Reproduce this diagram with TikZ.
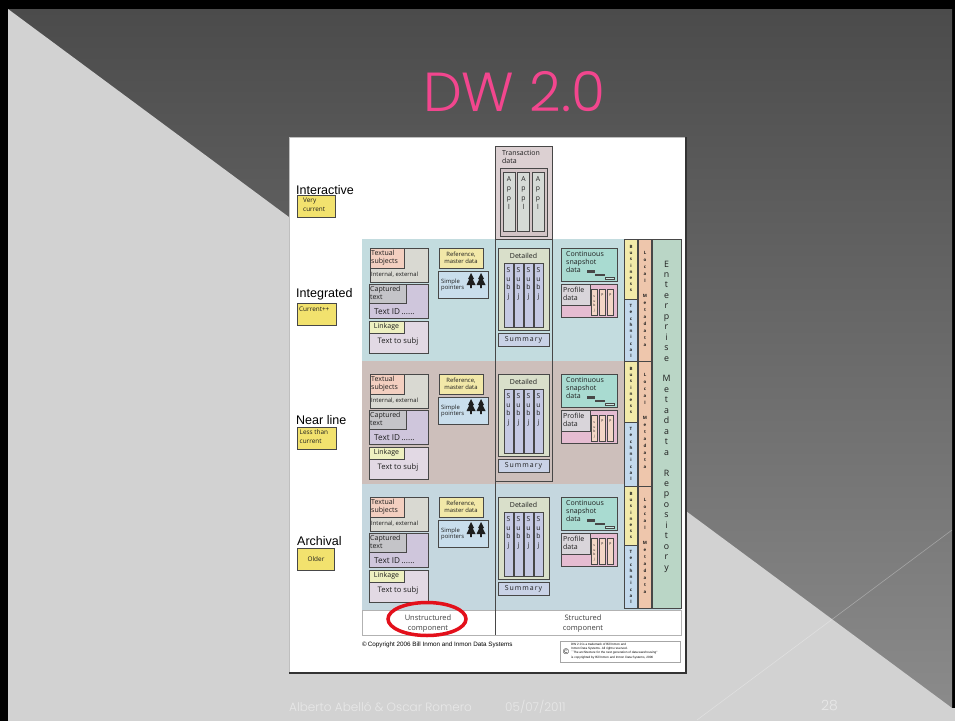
\documentclass[tikz,border=0pt]{standalone}
\usepackage{fontspec}
\newfontfamily\diafont{Open Sans}
\newfontfamily\sidefont{Liberation Sans}
\newfontfamily\titlefont{Poppins Light}

\definecolor{slidedark}{HTML}{4B4B4B}
\definecolor{slidelow}{HTML}{8C8C8C}
\definecolor{slidelight}{HTML}{D2D2D2}
\definecolor{titlepink}{HTML}{F2468E}
\definecolor{footgray}{HTML}{E8E8E8}
\definecolor{boxline}{HTML}{474747}
\definecolor{ink}{HTML}{1E1E1E}
\definecolor{redmark}{HTML}{E3101B}
\definecolor{tagyellow}{HTML}{F2E26E}
\definecolor{intband}{HTML}{C3DCDF}
\definecolor{nearband}{HTML}{CDBFBB}
\definecolor{archband}{HTML}{C5D7DF}
\definecolor{textout}{HTML}{D9D9D2}
\definecolor{textlab}{HTML}{F3CFC0}
\definecolor{captout}{HTML}{CFC6DC}
\definecolor{captlab}{HTML}{C4C4C8}
\definecolor{linkout}{HTML}{E2D9E4}
\definecolor{linklab}{HTML}{EEF0C0}
\definecolor{refbox}{HTML}{F2E8A8}
\definecolor{ptrbox}{HTML}{C9DEEC}
\definecolor{detbox}{HTML}{D9DFCA}
\definecolor{subjcol}{HTML}{C5C9E3}
\definecolor{sumbox}{HTML}{C9D2E6}
\definecolor{transout}{HTML}{DCD0D2}
\definecolor{transin}{HTML}{D2C4C6}
\definecolor{applcol}{HTML}{D5DAD6}
\definecolor{contbox}{HTML}{A9DBD1}
\definecolor{profout}{HTML}{E5BCD1}
\definecolor{proflab}{HTML}{D9D5DA}
\definecolor{profstrip}{HTML}{F3D6C6}
\definecolor{buscol}{HTML}{F2EAA9}
\definecolor{techcol}{HTML}{C3D9EC}
\definecolor{localcol}{HTML}{EEC6AC}
\definecolor{entcol}{HTML}{BAD6C6}

\tikzset{
  bx/.style={draw=boxline, line width=1pt},
  tag/.style={draw=boxline, line width=1pt, fill=tagyellow},
  lbl/.style={font=\diafont\fontsize{7}{8}\selectfont, text=ink, inner sep=0pt, align=left},
  small/.style={font=\diafont\fontsize{5.9}{6.8}\selectfont, text=ink, inner sep=0pt, align=left},
  tagtext/.style={font=\diafont\fontsize{6.4}{8.5}\selectfont, text=ink, inner sep=0pt, align=left},
  big/.style={font=\diafont\fontsize{8.2}{9}\selectfont, text=ink, inner sep=0pt},
  letter/.style={font=\diafont\fontsize{6.8}{6.8}\selectfont, text=ink, inner sep=0pt, anchor=base},
  micro/.style={font=\diafont\bfseries\fontsize{4.4}{4.4}\selectfont, text=ink, inner sep=0pt, anchor=base},
  entl/.style={font=\diafont\fontsize{8.8}{8.8}\selectfont, text=ink, inner sep=0pt, anchor=base},
  side/.style={font=\sidefont\fontsize{12.5}{14}\selectfont, text=black, inner sep=0pt, anchor=base west},
  foot/.style={font=\titlefont\fontsize{12}{14}\selectfont, text=footgray, inner sep=0pt},
}

\begin{document}
\begin{tikzpicture}[x=1pt, y=-1pt]
  \useasboundingbox (0,0) rectangle (955,720);

  % slide background
  \fill[black] (0,0) rectangle (955,722);
  \shade[top color=slidedark, bottom color=slidelow] (8,9) rectangle (952,722);
  \fill[slidelight] (8,9) -- (952,708) -- (956,708) -- (956,722) -- (8,722) -- cycle;
  \draw[white, opacity=0.3, line width=0.6pt] (952,530) -- (697,720);

  \node[font=\titlefont\fontsize{55}{60}\selectfont, text=titlepink, inner sep=0pt] (title) at (514,92) {DW 2.0};

  % the white sheet
  \fill[white] (289,137) rectangle (686,673);
  \draw[black!25, line width=0.6pt] (289,673) -- (289,137) -- (686,137);
  \draw[black!80, line width=1.6pt] (686,137) -- (686,673) -- (289,673);

  % ages on the left
  \node[side] (interactive) at (296,194) {Interactive};
  \draw[tag] (297.5,195) rectangle (335.5,217);
  \node[tagtext, anchor=north west] (verycur) at (303,198) {Very\\current};
  \node[side] (integrated) at (296,297.5) {Integrated};
  \draw[tag] (297.5,303) rectangle (336.5,325);
  \node[tagtext, anchor=north west] (curpp) at (299,306.5) {Current++};
  \node[side] (nearline) at (296,424) {Near line};
  \draw[tag] (297,427) rectangle (336.5,449);
  \node[tagtext, anchor=north west] (lessthan) at (299.5,429.5) {Less than\\current};
  \node[side] (archival) at (297,545) {Archival};
  \draw[tag] (297.5,548.5) rectangle (334,570.5);
  \node[tagtext] (older) at (316,559.5) {Older};

  % the three bands and what they hold
  \foreach \ya/\yb/\ey/\col [count=\bnd] in {239/361/248/intband, 361/484/374/nearband, 484/610/497/archband} {
    \fill[\col] (362,\ya) rectangle (681,\yb);

    % unstructured side
    \draw[bx, fill=textout] (370,\ey) rectangle (428,{\ey+34});
    \draw[bx, fill=textlab] (370,\ey) rectangle (404,{\ey+20});
    \node[lbl, anchor=north west] (txt\bnd) at (371,{\ey+2}) {Textual\\subjects};
    \node[small, anchor=west] (intext\bnd) at (371,{\ey+27}) {Internal, external};

    \draw[bx, fill=captout] (369,{\ey+36}) rectangle (428,{\ey+70});
    \draw[bx, fill=captlab] (369,{\ey+36}) rectangle (406,{\ey+55});
    \node[lbl, anchor=north west] (cap\bnd) at (370,{\ey+37.5}) {Captured\\text};
    \node[big, anchor=west] (tid\bnd) at (374,{\ey+63.5}) {Text ID\,......};

    \draw[bx, fill=linkout] (369,{\ey+73}) rectangle (428,{\ey+105});
    \draw[bx, fill=linklab] (369,{\ey+73}) rectangle (404,{\ey+85});
    \node[lbl] (lnk\bnd) at (386.5,{\ey+79}) {Linkage};
    \node[big, font=\diafont\fontsize{7.6}{8}\selectfont] (tts\bnd) at (398,{\ey+94}) {Text to subj};

    \draw[bx, fill=refbox] (439,\ey) rectangle (483,{\ey+20});
    \node[small, align=center] (ref\bnd) at (461,{\ey+10}) {Reference,\\master data};

    \draw[bx, fill=ptrbox] (438,{\ey+23}) rectangle (488,{\ey+50});
    \node[small, anchor=west] (ptr\bnd) at (441,{\ey+37}) {Simple\\pointers};
    \foreach \tx in {471,481}
      \fill[ink] (\tx,{\ey+25}) -- ({\tx+3},{\ey+31}) -- ({\tx+1.6},{\ey+31}) -- ({\tx+4.5},{\ey+37})
        -- ({\tx+0.8},{\ey+37}) -- ({\tx+0.8},{\ey+40}) -- ({\tx-0.8},{\ey+40}) -- ({\tx-0.8},{\ey+37})
        -- ({\tx-4.5},{\ey+37}) -- ({\tx-1.6},{\ey+31}) -- ({\tx-3},{\ey+31}) -- cycle;

    % structured side
    \draw[bx, fill=detbox] (498,\ey) rectangle (549,{\ey+82});
    \node[lbl] (det\bnd) at (523.5,{\ey+7.5}) {Detailed};
    \foreach \sx [count=\k] in {504,514,524,534} {
      \draw[bx, fill=subjcol] (\sx,{\ey+15}) rectangle ({\sx+9},{\ey+79});
      \foreach \ch [count=\j] in {S,u,b,j}
        \node[letter] (subj\bnd-\k-\j) at ({\sx+4.5},{\ey+16+8.5*\j}) {\ch};
    }
    \draw[bx, fill=sumbox] (498,{\ey+85}) rectangle (549,{\ey+98});
    \node[lbl] (sum\bnd) at (523.5,{\ey+91.5}) {\addfontfeature{LetterSpace=14}Summary};

    \draw[bx, fill=contbox] (561,\ey) rectangle (617,{\ey+33});
    \node[lbl, anchor=north west] (cont\bnd) at (566,{\ey+3}) {Continuous\\snapshot\\data};
    \fill[boxline] (587,{\ey+22}) rectangle (595,{\ey+24.5});
    \fill[boxline] (595,{\ey+25.5}) rectangle (605,{\ey+28});
    \draw[boxline, fill=contbox!60, line width=0.7pt] (605,{\ey+29}) rectangle (614,{\ey+31});

    \draw[bx, fill=profout] (561,{\ey+36}) rectangle (617,{\ey+69});
    \draw[bx, fill=proflab] (561,{\ey+36}) rectangle (590,{\ey+57});
    \node[lbl, anchor=north west] (prof\bnd) at (563,{\ey+38.5}) {Profile\\data};
    \foreach \px [count=\k] in {591,599,607}
      \draw[bx, line width=0.8pt, fill=profstrip] (\px,{\ey+41}) rectangle ({\px+6.5},{\ey+67});
    \foreach \ch [count=\j] in {s,u,b,j}
      \node[micro, font=\diafont\fontsize{3.4}{3.4}\selectfont] (psub\bnd-\j) at (594.3,{\ey+45+4.6*\j}) {\ch};
    \node[micro, font=\diafont\fontsize{3.4}{3.4}\selectfont] (pa\bnd) at (602.3,{\ey+47}) {p};
    \node[micro, font=\diafont\fontsize{3.4}{3.4}\selectfont] (pb\bnd) at (610.3,{\ey+47}) {p};
  }

  % transaction data column
  \draw[bx, fill=transout] (495.5,146) rectangle (552,239);
  \draw[bx] (495.5,146) rectangle (552,481);
  \draw[bx] (495.5,481) -- (495.5,635);
  \node[lbl, anchor=north west] (trans) at (502,150) {Transaction\\data};
  \draw[bx, fill=transin] (500,168) rectangle (547,236.5);
  \foreach \ax [count=\k] in {503,517.5,532} {
    \draw[bx, fill=applcol] (\ax,172) rectangle ({\ax+12},231);
    \foreach \ch [count=\j] in {A,p,p,l}
      \node[letter] (appl\k-\j) at ({\ax+6},{181.5+9.3*(\j-1)}) {\ch};
  }

  % metadata columns
  \foreach \ya/\yb/\ym [count=\seg] in {239/361/299, 361/486/422, 486/608/545} {
    \draw[bx, fill=buscol] (624.5,\ya) rectangle (637.5,\ym);
    \draw[bx, fill=techcol] (624.5,\ym) rectangle (637.5,\yb);
    \draw[bx, fill=localcol] (638.5,\ya) rectangle (651.5,\yb);
    \foreach \ch [count=\j] in {B,u,s,i,n,e,s,s}
      \node[micro] (bus\seg-\j) at (631,{\ya+9.5+6.2*(\j-1)}) {\ch};
    \foreach \ch [count=\j] in {T,e,c,h,n,i,c,a,l}
      \node[micro] (tech\seg-\j) at (631,{\ym+8.5+6.25*(\j-1)}) {\ch};
    \foreach \ch [count=\j] in {L,o,c,a,l,{},M,e,t,a,d,a,t,a}
      \node[micro] (loc\seg-\j) at (645,{\ya+15.5+7.1*(\j-1)}) {\ch};
  }
  \draw[bx, fill=entcol] (652.5,239) rectangle (681,608);
  \foreach \ch [count=\j] in {E,n,t,e,r,p,r,i,s,e,{},M,e,t,a,d,a,t,a,{},R,e,p,o,s,i,t,o,r,y}
    \node[entl] (ent\j) at (666.5,{267+10.45*(\j-1)}) {\ch};

  % component row
  \draw[black!30, line width=0.6pt] (362,610) rectangle (681,635);
  \draw[bx] (495.5,610) -- (495.5,635);
  \node[lbl, font=\diafont\fontsize{7.5}{10.5}\selectfont, text=ink!85, align=center] (unstr) at (428,623.5) {Unstructured\\component};
  \node[lbl, font=\diafont\fontsize{7.5}{10.5}\selectfont, text=ink!85, align=center] (str) at (583,623.5) {Structured\\component};
  \draw[redmark, line width=3.5pt] (427,619) ellipse [x radius=39, y radius=16.5];

  % copyright lines
  \node[font=\sidefont\fontsize{6.3}{7}\selectfont, anchor=west, inner sep=0pt] (copy) at (362,645) {\copyright\,Copyright 2006 Bill Inmon and Inmon Data Systems};
  \draw[black!35, line width=0.5pt] (560,641) rectangle (680,662);
  \node[font=\sidefont\fontsize{8}{8}\selectfont, inner sep=0pt] (cmark) at (566,651.5) {\copyright};
  \node[font=\sidefont\fontsize{3.1}{4.2}\selectfont, anchor=north west, inner sep=0pt, align=left] (tmark) at (571,643) {DW 2.0 is a trademark of Bill Inmon and\\Inmon Data Systems. All rights reserved.\\``The architecture for the next generation of data warehousing''\\ is copyrighted by Bill Inmon and Inmon Data Systems, 2006};

  % footer
  \node[foot, anchor=west] (authors) at (289,707) {Alberto Abelló \& Oscar Romero};
  \node[foot, anchor=west] (date) at (505,707) {05/07/2011};
  \node[foot, font=\titlefont\fontsize{14}{16}\selectfont, anchor=west] (page) at (821,706) {28};
\end{tikzpicture}
\end{document}
